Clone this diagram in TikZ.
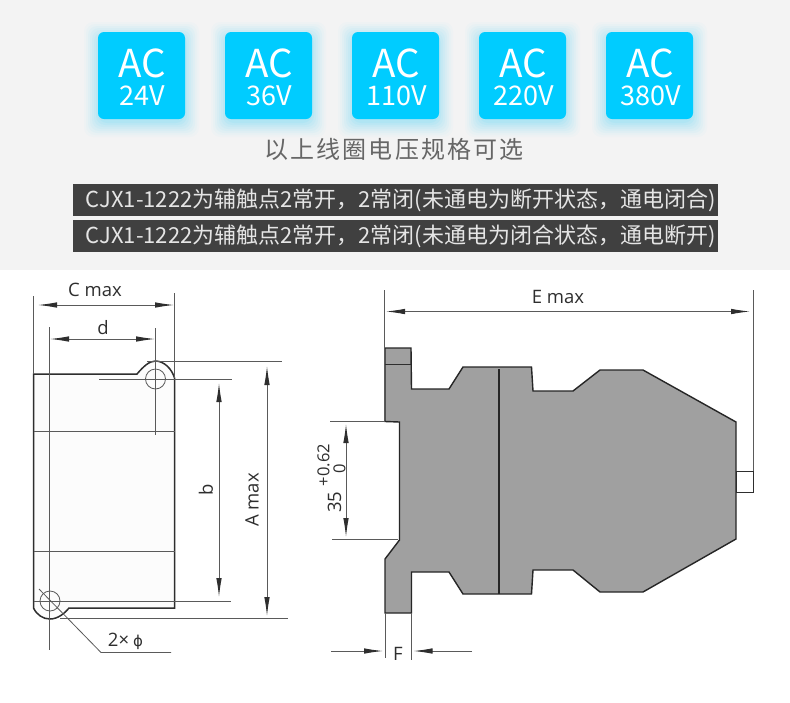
\documentclass[tikz,border=0pt]{standalone}
\usepackage{fontspec}
\usetikzlibrary{arrows.meta}
\newfontfamily\cjkfont{Noto Sans CJK SC}
\newfontfamily\dimfont{Open Sans}
\newfontfamily\symfont{DejaVu Sans}
\definecolor{bandgray}{HTML}{F3F3F3}
\definecolor{btncyan}{HTML}{00CCFF}
\definecolor{bardark}{HTML}{404040}
\definecolor{bodygray}{HTML}{A0A0A0}
\definecolor{dimline}{HTML}{5A5A5A}
\definecolor{inkdark}{HTML}{2E2E2E}
\definecolor{captiongray}{HTML}{666666}
\tikzset{
  x=1pt,y=-1pt,
  dimarrow/.style={draw=dimline,line width=0.9pt,{Latex[length=19pt,width=5.5pt,color=inkdark]}-{Latex[length=19pt,width=5.5pt,color=inkdark]}},
  onearrow/.style={draw=dimline,line width=0.9pt,-{Latex[length=19pt,width=5.5pt,color=inkdark]}},
  thinline/.style={draw=dimline,line width=0.8pt},
  outline/.style={draw=inkdark,line width=1.5pt,line join=miter},
  bodyline/.style={draw=black!85,line width=1.4pt,line join=miter},
  dimlabel/.style={font=\dimfont\fontsize{18.5}{18.5}\selectfont,text=inkdark,inner sep=0pt},
  barbox/.style={fill=bardark,draw=none},
  bartext/.style={font=\cjkfont\fontsize{22}{22}\selectfont,text=white!90!black,inner sep=0pt,anchor=west},
}
\newcommand{\acbutton}[3]{%
  \foreach \g/\o in {15/0.02,13/0.025,11/0.03,9/0.035,7/0.04,5/0.045,3/0.05,1/0.055}{
    \fill[btncyan,opacity=\o,rounded corners=9pt] (#1-\g+1,32-\g+5) rectangle (#1+87+\g-1,119+\g+3);
  }
  \fill[btncyan,rounded corners=6pt] (#1,32) rectangle (#1+87,119);
  \node[inner sep=0pt,text=white,font=\cjkfont\fontsize{38.5}{38.5}\selectfont] (ac#3) at (#1+44.5,63) {AC};
  \node[inner sep=0pt,text=white,font=\cjkfont\fontsize{27}{27}\selectfont] (v#3) at (#1+44.5,96) {#2};
}
\begin{document}
\begin{tikzpicture}
\useasboundingbox (0,0) rectangle (790,702);
\fill[white] (0,0) rectangle (790,702);
\fill[bandgray] (0,0) rectangle (790,270);
% voltage buttons
\acbutton{98}{24V}{a}
\acbutton{225}{36V}{b}
\acbutton{352}{110V}{c}
\acbutton{479}{220V}{d}
\acbutton{606}{380V}{e}
\node[inner sep=0pt,text=captiongray,font=\cjkfont\fontsize{24}{24}\selectfont,
  ] (caption) at (394,149) {以\hspace{2.1pt}上\hspace{2.1pt}线\hspace{2.1pt}圈\hspace{2.1pt}电\hspace{2.1pt}压\hspace{2.1pt}规\hspace{2.1pt}格\hspace{2.1pt}可\hspace{2.1pt}选};
% dark bars
\fill[barbox] (73,184) rectangle (718,215.5);
\fill[barbox] (73,220) rectangle (718,251.5);
\node[bartext] (barone) at (85.5,200) {CJX1-1222为辅触点2常开，2常闭(未通电为断开状态，通电闭合)};
\node[bartext] (bartwo) at (85.5,236) {CJX1-1222为辅触点2常开，2常闭(未通电为闭合状态，通电断开)};
% left view
\fill[white!99!black] (33.5,374) -- (137,374) .. controls (143,367) and (149,361) .. (155.5,361)
  .. controls (164,361) and (172,369) .. (174.5,378) -- (174.5,608) -- (69,608)
  .. controls (65,613) and (58,619) .. (50,619) .. controls (43,619) and (37,615) .. (33.5,608) -- cycle;
\draw[outline] (33.5,374) -- (137,374) .. controls (143,367) and (149,361) .. (155.5,361)
  .. controls (164,361) and (172,369) .. (174.5,378) -- (174.5,608) -- (69,608)
  .. controls (65,613) and (58,619) .. (50,619) .. controls (43,619) and (37,615) .. (33.5,608) -- cycle;
\draw[thinline] (33.5,431) -- (174.5,431);
\draw[thinline] (33.5,551) -- (174.5,551);
\draw[thinline] (155.5,379) circle[radius=10];
\draw[thinline] (50,601) circle[radius=10];
\draw[thinline] (33.5,296) -- (33.5,374);
\draw[thinline] (174.5,293) -- (174.5,378);
\draw[thinline] (49.5,327) -- (49.5,650);
\draw[thinline] (155.5,328) -- (155.5,435);
\draw[thinline] (147,361) -- (282,361);
\draw[thinline] (99,379) -- (232,379);
\draw[thinline] (33.5,601) -- (231,601);
\draw[thinline] (60,618) -- (288,618);
\draw[dimarrow] (38,305) -- (174,305);
\draw[dimarrow] (50,339) -- (155,339);
\draw[dimarrow] (219,383) -- (219,597);
\draw[dimarrow] (267,366) -- (267,616);
\draw[thinline] (39,589) -- (101,652.5) -- (171,652.5);
\node[dimlabel] (cmax) at (95,290) {C max};
\node[dimlabel] (dlabel) at (103,328) {d};
\node[dimlabel,rotate=90] (blabel) at (206,490) {b};
\node[dimlabel,rotate=90] (amax) at (252,500) {A max};
\node[dimlabel] (phi) at (125.5,641) {2×\hspace{4pt}{\symfont\fontsize{15}{15}\selectfont ϕ}};
% right view
\draw[bodyline,fill=bodygray] (385,348) -- (411,348) -- (411.5,389) -- (449,389) -- (463,367) -- (531.5,367)
  -- (533,391) -- (573,391) -- (600,370) -- (643,370) -- (736,422) -- (736,539) -- (643,592) -- (600,592)
  -- (573,570) -- (533,570) -- (531.5,594) -- (463,594) -- (449,572) -- (411.5,572) -- (411.5,613) -- (385,613)
  -- (385,559) -- (399.5,540) -- (399.5,422) -- (385,421.5) -- cycle;
\draw[bodyline] (499,369) -- (499,594);
\draw[thinline,draw=inkdark] (385,364.5) -- (411,364.5);
\draw[draw=inkdark,line width=1pt,fill=white] (736.5,471) rectangle (753,492.5);
\draw[thinline] (384.5,290) -- (384.5,421);
\draw[thinline] (753,290) -- (753,471);
\draw[dimarrow] (386,311.5) -- (750,311.5);
\draw[thinline] (330,421.5) -- (385,421.5);
\draw[thinline] (332,539) -- (398,539);
\draw[dimarrow] (346,424) -- (346,537);
\draw[thinline] (385,613) -- (385,658);
\draw[thinline] (411.5,613) -- (411.5,660);
\draw[onearrow] (331,651) -- (383,651);
\draw[onearrow] (472,651) -- (413.5,651);
\node[dimlabel] (emax) at (558,297) {E max};
\node[dimlabel] (flabel) at (398,654) {F};
\node[dimlabel,rotate=90] (thirtyfive) at (334.5,502) {35};
\node[dimlabel,rotate=90,font=\dimfont\fontsize{16.5}{16.5}\selectfont] (tolup) at (323.5,465) {+0.62};
\node[dimlabel,rotate=90,font=\dimfont\fontsize{16.5}{16.5}\selectfont] (tolzero) at (339.5,469) {0};
\end{tikzpicture}
\end{document}
